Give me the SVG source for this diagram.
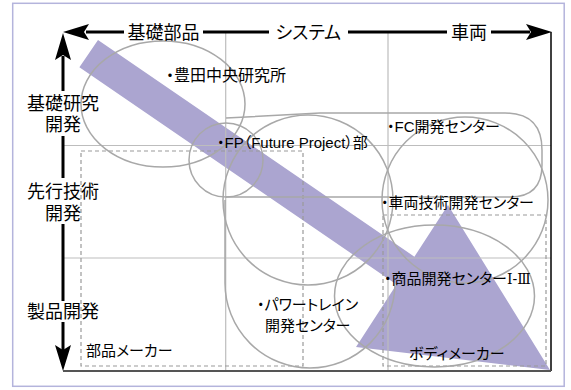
<svg xmlns="http://www.w3.org/2000/svg" width="571" height="390" viewBox="0 0 571 390">
<style>
.frame{fill:#fff;stroke:#b4b4dc;stroke-width:1.5}
.grid{stroke:#bdbdbd;stroke-width:1.2;fill:none}
.shape{fill:none;stroke:#a8a8a8;stroke-width:1.5}
.dash{fill:none;stroke:#9a9a9a;stroke-width:1.2;stroke-dasharray:4 3}
.axis{stroke:#000;stroke-width:3;fill:none}
.head{fill:#000}
.band{fill:#aba5d0}
text{font-family:"Noto Sans CJK JP","Liberation Sans",sans-serif;fill:#000;font-feature-settings:"palt"}
.h{font-size:18px}
.n{font-size:15px;font-family:"Liberation Sans","Noto Sans CJK JP",sans-serif}
.roman{font-family:"DejaVu Serif","Liberation Serif",serif;font-size:14px}
</style>
<rect class="frame" x="12.7" y="3.3" width="551.5" height="383"/>
<g id="band"><polygon class="band" points="98,40 414.4,256.7 448,205 550,370 356,347 396.5,284.4 79.4,67.2"/></g>
<g id="grid">
<line class="grid" x1="225.7" y1="32" x2="225.7" y2="371"/>
<line class="grid" x1="388" y1="32" x2="388" y2="371"/>
<line class="grid" x1="63" y1="145.5" x2="551" y2="145.5"/>
<line class="grid" x1="63" y1="258" x2="551" y2="258"/>
</g>
<g id="boxes">
<rect class="dash" x="81" y="151" width="222" height="215"/>
<rect class="dash" x="383" y="215" width="163" height="151"/>
</g>
<g id="shapes">
<ellipse id="toyota-central" class="shape" cx="163" cy="104" rx="82" ry="63"/>
<circle id="fp" class="shape" cx="226" cy="160" r="37"/>
<path id="fc" class="shape" d="M226,118 L320,113 L505,113 Q542,113 542,150 L542,165 Q542,197 510,197 L226,197"/>
<circle id="system-circle" class="shape" cx="308" cy="200" r="85"/>
<circle id="vehicle-tech" class="shape" cx="465" cy="200" r="83"/>
<path id="powertrain" class="shape" d="M225,200 L225,283 A85,85 0 0 0 395,283"/>
<ellipse id="product" class="shape" cx="434.5" cy="296" rx="100" ry="71"/>
</g>
<g id="axes">
<line class="axis" x1="86" y1="32" x2="124" y2="32"/>
<line class="axis" x1="203" y1="32" x2="269" y2="32"/>
<line class="axis" x1="348" y1="32" x2="447" y2="32"/>
<line class="axis" x1="491" y1="32" x2="530" y2="32"/>
<path class="head" d="M63,32 L89,24 L84,32 L89,40 Z"/>
<path class="head" d="M552,32 L526,24 L531,32 L526,40 Z"/>
<line class="axis" x1="63" y1="56" x2="63" y2="91"/>
<line class="axis" x1="63" y1="136" x2="63" y2="178"/>
<line class="axis" x1="63" y1="224" x2="63" y2="301"/>
<line class="axis" x1="63" y1="322" x2="63" y2="350"/>
<path class="head" d="M63,33 L71,60 L63,55 L55,60 Z"/>
<path class="head" d="M63,371 L71,345 L63,350 L55,345 Z"/>
<line x1="551" y1="32" x2="551" y2="371" stroke="#000" stroke-width="1.5"/>
<line x1="63" y1="371" x2="551" y2="371" stroke="#555" stroke-width="2"/>
</g>
<g id="labels">
<text class="h" x="163.4" y="39" text-anchor="middle">基礎部品</text>
<text class="h" x="308.3" y="39" text-anchor="middle">システム</text>
<text class="h" x="469" y="39" text-anchor="middle">車両</text>
<text class="h" x="63" y="110" text-anchor="middle">基礎研究</text>
<text class="h" x="63" y="130.5" text-anchor="middle">開発</text>
<text class="h" x="63" y="198" text-anchor="middle">先行技術</text>
<text class="h" x="63" y="220" text-anchor="middle">開発</text>
<text class="h" x="63" y="318" text-anchor="middle">製品開発</text>
<text class="n" x="166" y="81" style="font-size:16px">・豊田中央研究所</text>
<text class="n" x="217" y="147.5">・FP（Future Project）部</text>
<text class="n" x="387" y="131.5">・FC開発センター</text>
<text class="n" x="381" y="208">・車両技術開発センター</text>
<text class="n" x="384" y="284">・商品開発センター<tspan class="roman">Ⅰ-Ⅲ</tspan></text>
<text class="n" x="257" y="310">・パワートレイン</text>
<text class="n" x="265" y="331">開発センター</text>
<text class="n" x="86" y="355.5">部品メーカー</text>
<text class="n" x="409" y="359">ボディメーカー</text>
</g>
</svg>
